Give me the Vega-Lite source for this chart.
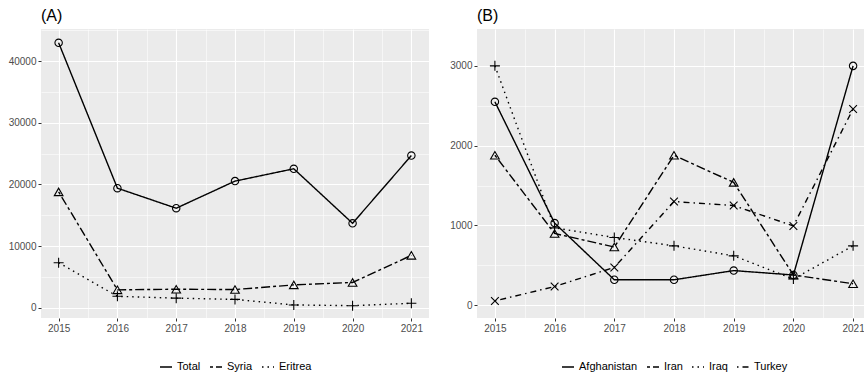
{
  "$schema": "https://vega.github.io/schema/vega-lite/v6.json",
  "background": "white",
  "padding": {"left": 8, "top": 8, "right": 0, "bottom": 0},
  "spacing": 20,
  "datasets": {
    "A": [
      {"year": 2015, "series": "Total", "value": 43000},
      {"year": 2016, "series": "Total", "value": 19400},
      {"year": 2017, "series": "Total", "value": 16150},
      {"year": 2018, "series": "Total", "value": 20550},
      {"year": 2019, "series": "Total", "value": 22550},
      {"year": 2020, "series": "Total", "value": 13700},
      {"year": 2021, "series": "Total", "value": 24700},
      {"year": 2015, "series": "Syria", "value": 18800},
      {"year": 2016, "series": "Syria", "value": 2900},
      {"year": 2017, "series": "Syria", "value": 3000},
      {"year": 2018, "series": "Syria", "value": 2950},
      {"year": 2019, "series": "Syria", "value": 3700},
      {"year": 2020, "series": "Syria", "value": 4100},
      {"year": 2021, "series": "Syria", "value": 8500},
      {"year": 2015, "series": "Eritrea", "value": 7300},
      {"year": 2016, "series": "Eritrea", "value": 1850},
      {"year": 2017, "series": "Eritrea", "value": 1550},
      {"year": 2018, "series": "Eritrea", "value": 1350},
      {"year": 2019, "series": "Eritrea", "value": 450},
      {"year": 2020, "series": "Eritrea", "value": 330},
      {"year": 2021, "series": "Eritrea", "value": 720}
    ],
    "B": [
      {"year": 2015, "series": "Afghanistan", "value": 2550},
      {"year": 2016, "series": "Afghanistan", "value": 1030},
      {"year": 2017, "series": "Afghanistan", "value": 320},
      {"year": 2018, "series": "Afghanistan", "value": 320},
      {"year": 2019, "series": "Afghanistan", "value": 435},
      {"year": 2020, "series": "Afghanistan", "value": 380},
      {"year": 2021, "series": "Afghanistan", "value": 3000},
      {"year": 2015, "series": "Iran", "value": 1880},
      {"year": 2016, "series": "Iran", "value": 900},
      {"year": 2017, "series": "Iran", "value": 730},
      {"year": 2018, "series": "Iran", "value": 1880},
      {"year": 2019, "series": "Iran", "value": 1540},
      {"year": 2020, "series": "Iran", "value": 380},
      {"year": 2021, "series": "Iran", "value": 270},
      {"year": 2015, "series": "Iraq", "value": 3000},
      {"year": 2016, "series": "Iraq", "value": 970},
      {"year": 2017, "series": "Iraq", "value": 850},
      {"year": 2018, "series": "Iraq", "value": 745},
      {"year": 2019, "series": "Iraq", "value": 620},
      {"year": 2020, "series": "Iraq", "value": 330},
      {"year": 2021, "series": "Iraq", "value": 745},
      {"year": 2015, "series": "Turkey", "value": 55},
      {"year": 2016, "series": "Turkey", "value": 235},
      {"year": 2017, "series": "Turkey", "value": 475},
      {"year": 2018, "series": "Turkey", "value": 1300},
      {"year": 2019, "series": "Turkey", "value": 1250},
      {"year": 2020, "series": "Turkey", "value": 995},
      {"year": 2021, "series": "Turkey", "value": 2460}
    ]
  },
  "hconcat": [
    {
      "width": 388,
      "height": 289,
      "title": {"text": "(A)"},
      "data": {"name": "A"},
      "encoding": {
        "x": {
          "field": "year", "type": "quantitative",
          "scale": {"domain": [2014.7, 2021.3], "nice": false, "zero": false},
          "axis": {
            "values": [2015, 2015.5, 2016, 2016.5, 2017, 2017.5, 2018, 2018.5, 2019, 2019.5, 2020, 2020.5, 2021],
            "labelExpr": "datum.value % 1 == 0 ? format(datum.value, 'd') : ''",
            "gridWidth": {"condition": {"test": "datum.value % 1 != 0", "value": 0.55}, "value": 1.1},
            "tickOpacity": {"condition": {"test": "datum.value % 1 != 0", "value": 0}, "value": 1}
          }
        },
        "y": {
          "field": "value", "type": "quantitative",
          "scale": {"domain": [-1670, 45240], "nice": false, "zero": false},
          "axis": {
            "values": [0, 5000, 10000, 15000, 20000, 25000, 30000, 35000, 40000, 45000],
            "labelExpr": "datum.value % 10000 == 0 ? format(datum.value, 'd') : ''",
            "gridWidth": {"condition": {"test": "datum.value % 10000 != 0", "value": 0.55}, "value": 1.1},
            "tickOpacity": {"condition": {"test": "datum.value % 10000 != 0", "value": 0}, "value": 1}
          }
        }
      },
      "layer": [
        {
          "mark": {"type": "line", "color": "black", "strokeWidth": 1.4},
          "encoding": {
            "strokeDash": {
              "field": "series", "type": "nominal",
              "scale": {"domain": ["Total", "Syria", "Eritrea"], "range": [[1, 0], [3, 3, 9, 3], [1.5, 4]]},
              "legend": {"orient": "bottom", "direction": "horizontal", "title": null}
            }
          }
        },
        {
          "transform": [{"filter": "datum.series == 'Total'"}],
          "mark": {"type": "point", "shape": "circle", "size": 55, "filled": false, "color": "black", "strokeWidth": 1.1, "opacity": 1}
        },
        {
          "transform": [{"filter": "datum.series == 'Syria'"}],
          "mark": {"type": "point", "shape": "triangle-up", "size": 75, "filled": false, "color": "black", "strokeWidth": 1.1, "opacity": 1}
        },
        {
          "transform": [{"filter": "datum.series == 'Eritrea'"}],
          "mark": {"type": "point", "shape": "M-1,0H1M0,-1V1", "size": 100, "filled": false, "color": "black", "strokeWidth": 1.1, "opacity": 1}
        }
      ]
    },
    {
      "width": 394,
      "height": 289,
      "title": {"text": "(B)"},
      "data": {"name": "B"},
      "encoding": {
        "x": {
          "field": "year", "type": "quantitative",
          "scale": {"domain": [2014.7, 2021.3], "nice": false, "zero": false},
          "axis": {
            "values": [2015, 2015.5, 2016, 2016.5, 2017, 2017.5, 2018, 2018.5, 2019, 2019.5, 2020, 2020.5, 2021],
            "labelExpr": "datum.value % 1 == 0 ? format(datum.value, 'd') : ''",
            "gridWidth": {"condition": {"test": "datum.value % 1 != 0", "value": 0.55}, "value": 1.1},
            "tickOpacity": {"condition": {"test": "datum.value % 1 != 0", "value": 0}, "value": 1}
          }
        },
        "y": {
          "field": "value", "type": "quantitative",
          "scale": {"domain": [-159, 3462], "nice": false, "zero": false},
          "axis": {
            "values": [0, 500, 1000, 1500, 2000, 2500, 3000],
            "labelExpr": "datum.value % 1000 == 0 ? format(datum.value, 'd') : ''",
            "gridWidth": {"condition": {"test": "datum.value % 1000 != 0", "value": 0.55}, "value": 1.1},
            "tickOpacity": {"condition": {"test": "datum.value % 1000 != 0", "value": 0}, "value": 1}
          }
        }
      },
      "layer": [
        {
          "mark": {"type": "line", "color": "black", "strokeWidth": 1.4},
          "encoding": {
            "strokeDash": {
              "field": "series", "type": "nominal",
              "scale": {"domain": ["Afghanistan", "Iran", "Iraq", "Turkey"], "range": [[1, 0], [3, 3, 9, 3], [1.5, 4], [1.5, 4, 6, 4]]},
              "legend": {"orient": "bottom", "direction": "horizontal", "title": null}
            }
          }
        },
        {
          "transform": [{"filter": "datum.series == 'Afghanistan'"}],
          "mark": {"type": "point", "shape": "circle", "size": 55, "filled": false, "color": "black", "strokeWidth": 1.1, "opacity": 1}
        },
        {
          "transform": [{"filter": "datum.series == 'Iran'"}],
          "mark": {"type": "point", "shape": "triangle-up", "size": 75, "filled": false, "color": "black", "strokeWidth": 1.1, "opacity": 1}
        },
        {
          "transform": [{"filter": "datum.series == 'Iraq'"}],
          "mark": {"type": "point", "shape": "M-1,0H1M0,-1V1", "size": 100, "filled": false, "color": "black", "strokeWidth": 1.1, "opacity": 1}
        },
        {
          "transform": [{"filter": "datum.series == 'Turkey'"}],
          "mark": {"type": "point", "shape": "M-1,-1L1,1M-1,1L1,-1", "size": 60, "filled": false, "color": "black", "strokeWidth": 1.1, "opacity": 1}
        }
      ]
    }
  ],
  "resolve": {
    "scale": {"x": "independent", "y": "independent", "strokeDash": "independent"},
    "legend": {"strokeDash": "independent"}
  },
  "config": {
    "font": "Liberation Sans",
    "view": {"fill": "#EBEBEB", "stroke": null},
    "title": {"anchor": "start", "frame": "group", "fontSize": 16, "fontWeight": "normal", "color": "black", "offset": 5, "font": "Liberation Sans"},
    "axis": {
      "domain": false,
      "title": null,
      "gridColor": "white",
      "tickColor": "#333333",
      "tickSize": 3,
      "tickWidth": 1,
      "labelColor": "#4D4D4D",
      "labelFontSize": 10,
      "labelPadding": 2,
      "labelFont": "Liberation Sans"
    },
    "legend": {
      "symbolType": "stroke",
      "symbolStrokeColor": "black",
      "symbolStrokeWidth": 1.4,
      "symbolSize": 144,
      "labelFontSize": 11,
      "labelColor": "black",
      "labelFont": "Liberation Sans",
      "columnPadding": 6,
      "offset": 27,
      "layout": {"bottom": {"anchor": "middle"}}
    }
  }
}
